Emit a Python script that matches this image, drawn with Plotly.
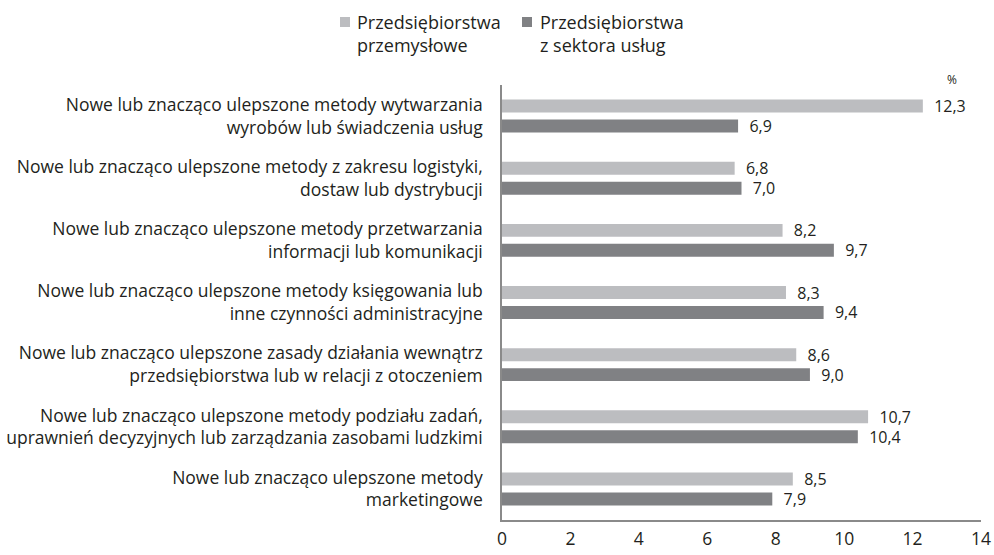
import plotly.graph_objects as go

categories = [
    "Nowe lub znacząco ulepszone metody wytwarzania<br>wyrobów lub świadczenia usług",
    "Nowe lub znacząco ulepszone metody z zakresu logistyki,<br>dostaw lub dystrybucji",
    "Nowe lub znacząco ulepszone metody przetwarzania<br>informacji lub komunikacji",
    "Nowe lub znacząco ulepszone metody księgowania lub<br>inne czynności administracyjne",
    "Nowe lub znacząco ulepszone zasady działania wewnątrz<br>przedsiębiorstwa lub w relacji z otoczeniem",
    "Nowe lub znacząco ulepszone metody podziału zadań,<br>uprawnień decyzyjnych lub zarządzania zasobami ludzkimi",
    "Nowe lub znacząco ulepszone metody<br>marketingowe",
]
industry = [12.3, 6.8, 8.2, 8.3, 8.6, 10.7, 8.5]
services = [6.9, 7.0, 9.7, 9.4, 9.0, 10.4, 7.9]
series_names = ["Przedsiębiorstwa<br>przemysłowe", "Przedsiębiorstwa<br>z sektora usług"]
series_colors = ["#bcbdc0", "#808184"]
x_ticks = [0, 2, 4, 6, 8, 10, 12, 14]

FONT = "Open Sans"
TXT = "#231f20"
FS = 17.5

W, H = 994, 555
L, R, T, B = 502, 13, 85, 35
PW, PH = W - L - R, H - T - B


def px(x):
    return (x - L) / PW


def py(y):
    return (H - B - y) / PH


fig = go.Figure()
for name, vals, col in zip(series_names, [industry, services], series_colors):
    fig.add_trace(go.Bar(
        y=categories, x=vals, orientation="h", name=name,
        marker=dict(color=col, line=dict(width=0)),
        text=["\u00a0\u00a0" + f"{v:.1f}".replace(".", ",") for v in vals],
        textposition="outside", constraintext="none",
        textfont=dict(size=16, color=TXT, family=FONT),
        cliponaxis=False,
    ))

shapes = []
annotations = []
# manual legend (square + two-line label)
legend_pos = [(340, 355), (522, 538)]
for (sx, tx), name, col in zip(legend_pos, series_names, series_colors):
    shapes.append(dict(type="rect", xref="paper", yref="paper",
                       x0=px(sx), x1=px(sx + 10), y0=py(27), y1=py(17),
                       fillcolor=col, line=dict(width=0)))
    annotations.append(dict(text=name, x=px(tx), y=py(8), xref="paper", yref="paper",
                            xanchor="left", yanchor="top", align="left", showarrow=False,
                            font=dict(size=18, color=TXT, family=FONT)))

annotations.append(dict(text="%", x=px(952), y=py(80), xref="paper", yref="paper",
                        xanchor="center", yanchor="middle", showarrow=False,
                        font=dict(size=12, color=TXT, family=FONT)))

fig.update_layout(
    width=W, height=H,
    margin=dict(l=L, r=R, t=T, b=B, autoexpand=False),
    paper_bgcolor="white", plot_bgcolor="white",
    barmode="group", bargap=0.358, bargroupgap=0.35,
    font=dict(family=FONT, size=FS, color=TXT),
    showlegend=False,
    xaxis=dict(range=[0, 14], tickvals=x_ticks, ticktext=[str(t) for t in x_ticks],
               showgrid=False, zeroline=False, showline=True, linecolor="#8a8a8a", linewidth=1.5,
               ticks="", ticklabelstandoff=2, tickfont=dict(size=FS, color=TXT), fixedrange=True),
    yaxis=dict(autorange="reversed", showgrid=False, showline=True, linecolor="#8a8a8a", linewidth=1.5,
               ticks="", ticklabelstandoff=14, tickfont=dict(size=FS, color=TXT)),
    shapes=shapes,
    annotations=annotations,
)

fig.write_html("out.html", config={"displayModeBar": False},
               post_script="document.body.style.margin='0';")
